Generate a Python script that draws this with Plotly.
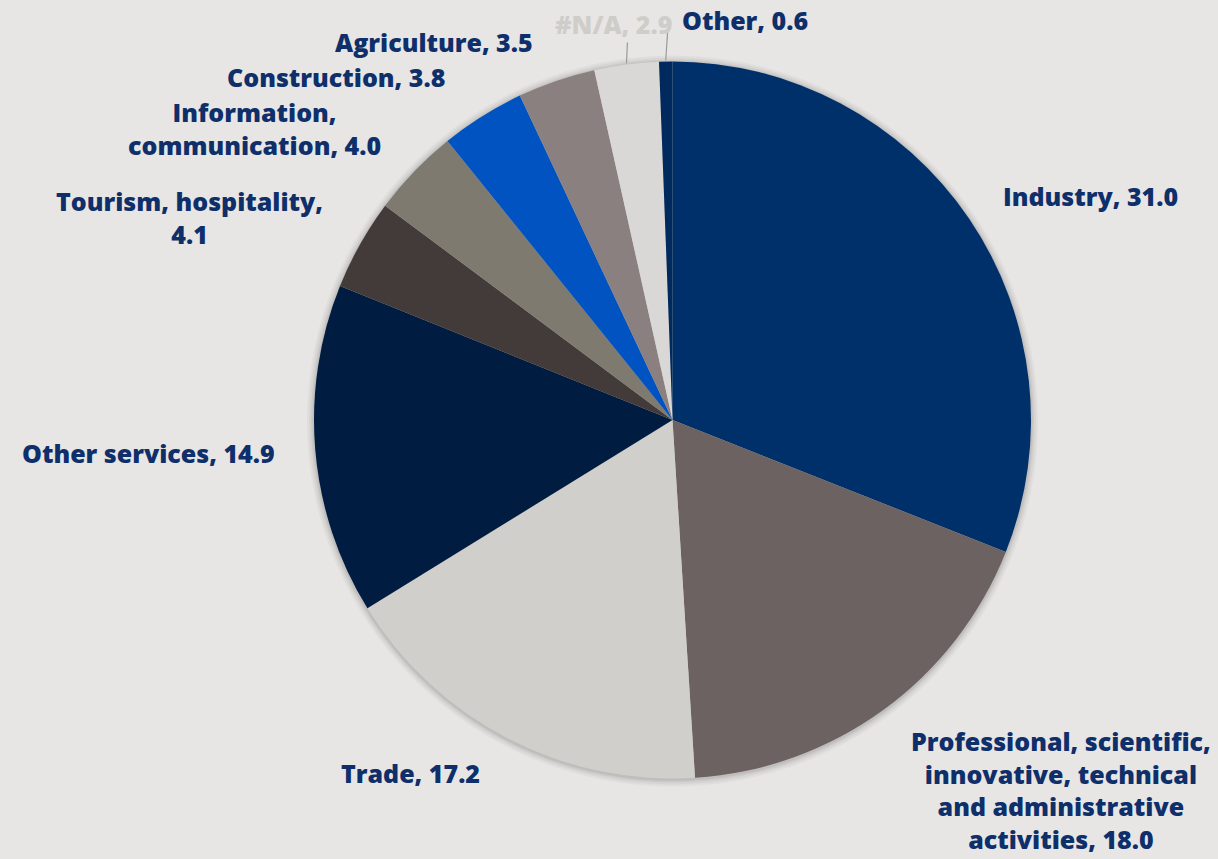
import math
import plotly.graph_objects as go

# Share of firms by sector (%)
sectors = [
    "Industry", "Professional, scientific, innovative, technical and administrative activities",
    "Trade", "Other services", "Tourism, hospitality", "Information, communication",
    "Construction", "Agriculture", "#N/A", "Other",
]
shares = [31.0, 18.0, 17.2, 14.9, 4.1, 4.0, 3.8, 3.5, 2.9, 0.6]
label_text = [
    "Industry, 31.0",
    "Professional, scientific,<br>innovative, technical<br>and administrative<br>activities, 18.0",
    "Trade, 17.2",
    "Other services, 14.9",
    "Tourism, hospitality,<br>4.1",
    "Information,<br>communication, 4.0",
    "Construction, 3.8",
    "Agriculture, 3.5",
    "#N/A, 2.9",
    "Other, 0.6",
]
colors = ["#003069", "#6B6261", "#D1CFCC", "#001C40", "#433B39",
          "#7F7A70", "#0053C0", "#8A8080", "#DAD8D6", "#002A5E"]
label_colors = ["#0E2F6A"] * 8 + ["#CFCDCA", "#0E2F6A"]

W, H = 1218, 859
CX, CY, R = 672.5, 420.0, 358.5
BG = "#E7E6E4"

# label offsets (px) from each slice's rim midpoint
label_offsets = [(121, -22), (178, 80), (-97, 35), (-167, 3), (-170, -27),
                 (-160, -43), (-146, -39), (-122, -39), (-13, -40), (79, -42)]
# short leader lines for the thin top slices: (index, start length px above rim)
leaders = {8: 22, 9: 32}

def px_to_paper(x, y):
    return x / W, 1 - y / H

fig = go.Figure(go.Pie(
    labels=sectors, values=shares, sort=False, direction="clockwise", rotation=0,
    marker=dict(colors=colors, line=dict(width=0)), textinfo="none",
    hoverinfo="label+value", showlegend=False,
    domain=dict(x=[(CX - R) / W, (CX + R) / W], y=[1 - (CY + R) / H, 1 - (CY - R) / H]),
))

total = sum(shares)
annotations, shapes = [], []

# soft shadow ring around the pie
for k, op in [(7, 0.03), (5, 0.04), (3, 0.05), (1.5, 0.06)]:
    x0, y1 = px_to_paper(CX - R - k, CY - R - k + 1)
    x1, y0 = px_to_paper(CX + R + k, CY + R + k + 1)
    shapes.append(dict(type="circle", xref="paper", yref="paper", x0=x0, x1=x1, y0=y0, y1=y1,
                       fillcolor="black", opacity=op, line=dict(width=0), layer="below"))

cum = 0.0
for i, v in enumerate(shares):
    mid = (cum + v / 2) / total * 2 * math.pi
    cum += v
    dx, dy = math.sin(mid), -math.cos(mid)
    rx, ry = CX + R * dx, CY + R * dy
    ox, oy = label_offsets[i]
    x, y = px_to_paper(rx + ox, ry + oy)
    annotations.append(dict(
        x=x, y=y, xref="paper", yref="paper", text=label_text[i], showarrow=False,
        xanchor="center", yanchor="middle", align="center",
        font=dict(family="Open Sans", size=25, color=label_colors[i], weight=800),
    ))
    if i in leaders:
        x0, y0 = px_to_paper(rx + (2 if i == 9 else 1), ry - leaders[i])
        x1, y1 = px_to_paper(rx, ry - 1)
        shapes.append(dict(type="line", xref="paper", yref="paper", x0=x0, y0=y0,
                           x1=x1, y1=y1, line=dict(color="#9A9A9A", width=1.2)))

fig.update_layout(
    width=W, height=H, margin=dict(l=0, r=0, t=0, b=0),
    paper_bgcolor=BG, plot_bgcolor=BG,
    annotations=annotations, shapes=shapes,
)
fig.write_html("out.html")
